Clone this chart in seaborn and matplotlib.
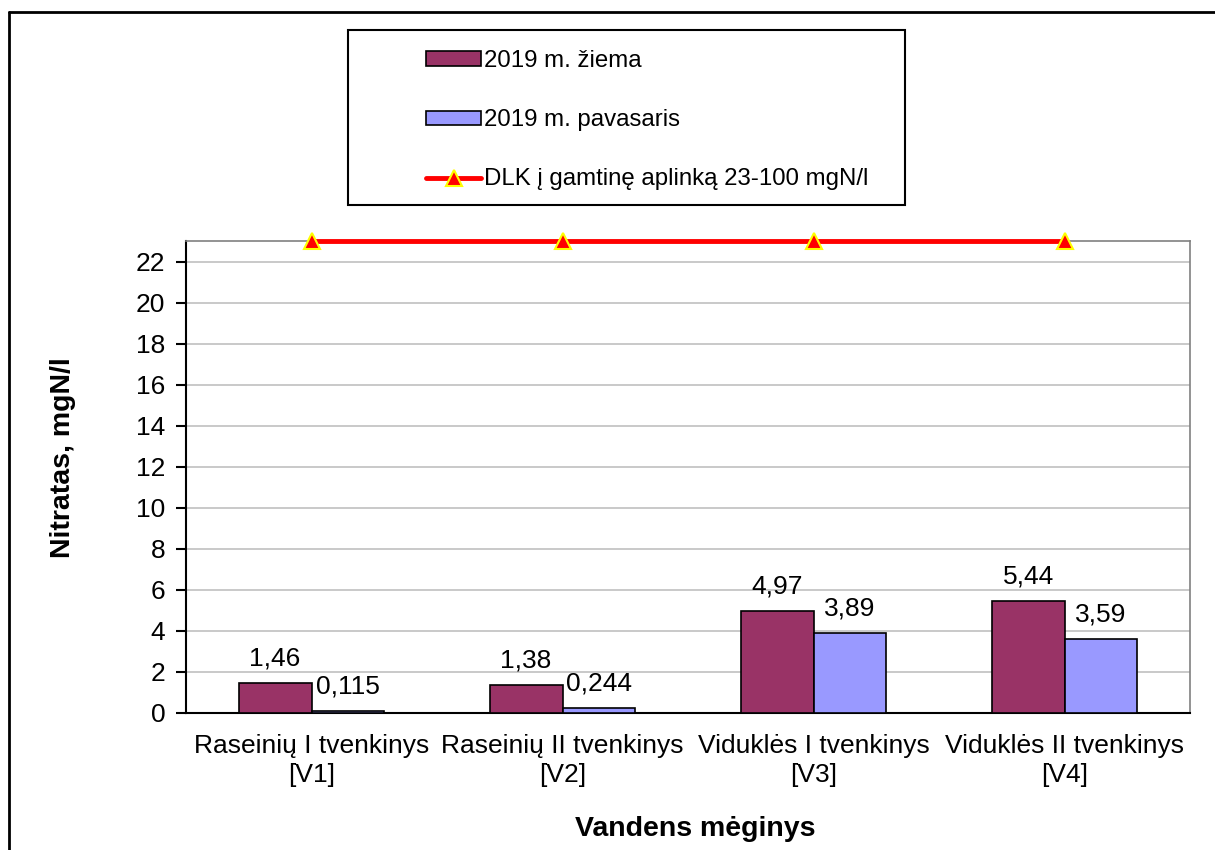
import matplotlib
matplotlib.use("Agg")
import matplotlib.pyplot as plt
import seaborn as sns
import pandas as pd
from matplotlib.patches import Rectangle
from matplotlib.lines import Line2D
from matplotlib.ticker import FixedLocator

categories = ["Raseinių I tvenkinys\n[V1]", "Raseinių II tvenkinys\n[V2]",
              "Viduklės I tvenkinys\n[V3]", "Viduklės II tvenkinys\n[V4]"]
series_names = ["2019 m. žiema", "2019 m. pavasaris"]
winter = [1.46, 1.38, 4.97, 5.44]
spring = [0.115, 0.244, 3.89, 3.59]
winter_labels = ["1,46", "1,38", "4,97", "5,44"]
spring_labels = ["0,115", "0,244", "3,89", "3,59"]
dlk_name = "DLK į gamtinę aplinką 23-100 mgN/l"
dlk = [23, 23, 23, 23]
yticks = list(range(0, 23, 2))

sns.set_style("white")
plt.rcParams['font.family'] = ['Liberation Sans', 'DejaVu Sans']
plt.rcParams['text.color'] = 'black'
plt.rcParams['axes.labelcolor'] = 'black'
plt.rcParams['xtick.color'] = 'black'
plt.rcParams['ytick.color'] = 'black'

df = pd.DataFrame({
    "cat": categories * 2,
    "series": [series_names[0]] * 4 + [series_names[1]] * 4,
    "value": winter + spring,
})

FS = 19

fig = plt.figure(figsize=(12.15, 8.5), dpi=100)
ax = fig.add_axes([186/1215, 1-713/850, (1190-186)/1215, (713-241)/850])

palette = {series_names[0]: "#993366", series_names[1]: "#9999FF"}
sns.barplot(data=df, x="cat", y="value", hue="series", palette=palette,
            width=0.58, gap=0, edgecolor="black", linewidth=1.2,
            saturation=1, ax=ax, legend=False, zorder=3)

for cont, labs in zip(ax.containers, [winter_labels, spring_labels]):
    ax.bar_label(cont, labels=labs, padding=9, fontsize=FS, color="black")

ax.plot(range(len(categories)), dlk, color="#FF0000", linewidth=3.5,
        marker="^", markersize=11, markerfacecolor="#FF0000",
        markeredgecolor="#FFFF00", markeredgewidth=1.5, zorder=5, clip_on=False)

ax.set_xlim(-0.5, 3.5)
ax.set_ylim(0, 23)
ax.set_yticks(yticks)
ax.set_yticklabels([str(v) for v in yticks], fontsize=FS)
ax.yaxis.grid(True, color="#C0C0C0", linewidth=1.2, zorder=0)
ax.set_axisbelow(True)

ax.set_xticks(range(len(categories)))
ax.set_xticklabels(categories, fontsize=FS, linespacing=1.25)
ax.xaxis.set_minor_locator(FixedLocator([-0.5, 0.5, 1.5, 2.5, 3.5]))
ax.tick_params(axis="x", which="major", length=0, pad=15, labelcolor="black")
ax.tick_params(axis="x", which="minor", length=7, width=1.5, color="black", direction="out")
ax.tick_params(axis="y", which="major", length=7, width=1.5, color="black", direction="out",
               left=True, pad=8, labelcolor="black")

for s in ["left", "bottom"]:
    ax.spines[s].set_color("black")
    ax.spines[s].set_linewidth(1.5)
for s in ["top", "right"]:
    ax.spines[s].set_color("#808080")
    ax.spines[s].set_linewidth(1.2)

ax.set_xlabel("Vandens mėginys", fontsize=20.5, fontweight="bold", color="black")
ax.xaxis.set_label_coords(0.507, -0.218)
ax.set_ylabel("Nitratas, mgN/l", fontsize=20.5, fontweight="bold", color="black")
ax.yaxis.set_label_coords(-0.1095, 0.542)

# figure frame (left and top edges visible)
fig.add_artist(Line2D([9/1215, 9/1215], [0, 1-12/850], transform=fig.transFigure,
                      color="black", linewidth=2))
fig.add_artist(Line2D([9/1215, 1], [1-12/850, 1-12/850], transform=fig.transFigure,
                      color="black", linewidth=2))

# legend box
fig.add_artist(Rectangle((348/1215, 1-205/850), (905-348)/1215, (205-30)/850,
                         transform=fig.transFigure, facecolor="white",
                         edgecolor="black", linewidth=1.5))
handles = [
    Rectangle((0, 0), 1, 1, facecolor="#993366", edgecolor="black", linewidth=1.2),
    Rectangle((0, 0), 1, 1, facecolor="#9999FF", edgecolor="black", linewidth=1.2),
    Line2D([], [], color="#FF0000", linewidth=3.5, marker="^", markersize=11,
           markerfacecolor="#FF0000", markeredgecolor="#FFFF00", markeredgewidth=1.5),
]
leg = fig.legend(handles, series_names + [dlk_name], loc="upper left",
                 bbox_to_anchor=(426/1215, 1-50/850), frameon=False,
                 fontsize=17.3, handlelength=2.3, handleheight=0.55,
                 handletextpad=0.1, labelspacing=1.55, borderaxespad=0, borderpad=0,
                 labelcolor="black")

fig.savefig("out.png", dpi=100)
